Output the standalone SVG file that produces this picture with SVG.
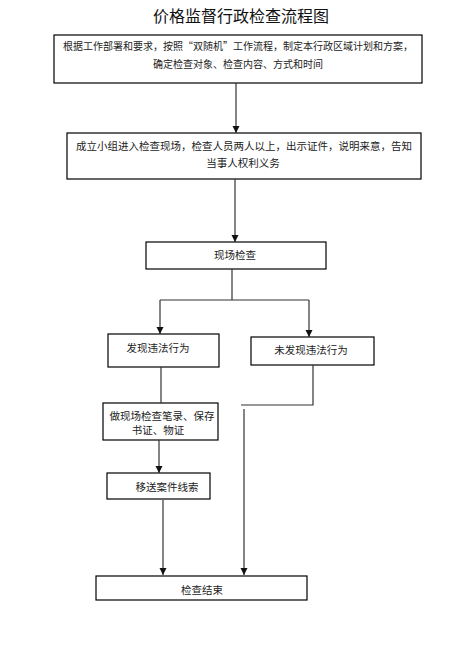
<svg xmlns="http://www.w3.org/2000/svg" width="465" height="669" viewBox="0 0 465 669">
<style>
.box{fill:#fff;stroke:#000;stroke-width:1.2}
.t{font-family:"Noto Sans CJK SC","Liberation Sans",sans-serif;font-size:10.5px;fill:#222;text-anchor:middle;dominant-baseline:central}
.ln{stroke:#333;stroke-width:1.2;fill:none}
</style>
<defs>
<marker id="ah" markerWidth="8" markerHeight="8" refX="7" refY="4" orient="auto" markerUnits="userSpaceOnUse">
<path d="M0,0.5 L7,4 L0,7.5 Z" fill="#111"/>
</marker>
</defs>
<rect width="465" height="669" fill="#fff"/>
<text x="241" y="15" class="t" style="font-size:16px;fill:#111">价格监督行政检查流程图</text>

<g id="n1"><rect class="box" x="54" y="35" width="368" height="48"/>
<text class="t" x="238" y="45" style="font-size:10px">根据工作部署和要求，按照“双随机”工作流程，制定本行政区域计划和方案，</text>
<text class="t" x="238" y="63" style="font-size:10px">确定检查对象、检查内容、方式和时间</text></g>

<g id="n2"><rect class="box" x="67" y="133" width="354" height="46"/>
<text class="t" x="244" y="145">成立小组进入检查现场，检查人员两人以上，出示证件，说明来意，告知</text>
<text class="t" x="243" y="162">当事人权利义务</text></g>

<g id="n3"><rect class="box" x="146" y="242" width="180" height="27"/>
<text class="t" x="235" y="254">现场检查</text></g>

<g id="n4"><rect class="box" x="108" y="334" width="111" height="33"/>
<text class="t" x="158" y="347">发现违法行为</text></g>

<g id="n5"><rect class="box" x="251" y="337" width="123" height="28"/>
<text class="t" x="311" y="349">未发现违法行为</text></g>

<g id="n6"><rect class="box" x="103" y="403" width="115" height="37"/>
<text class="t" x="162" y="415">做现场检查笔录、保存</text>
<text class="t" x="158" y="429">书证、物证</text></g>

<g id="n7"><rect class="box" x="107" y="473" width="103" height="26"/>
<text class="t" x="167" y="486">移送案件线索</text></g>

<g id="n8"><rect class="box" x="96" y="576" width="211" height="24"/>
<text class="t" x="202" y="589">检查结束</text></g>

<g id="connectors">
<line class="ln" x1="236" y1="83" x2="236" y2="133" marker-end="url(#ah)"/>
<line class="ln" x1="235" y1="179" x2="235" y2="242" marker-end="url(#ah)"/>
<polyline class="ln" points="232,269 232,300"/>
<polyline class="ln" points="160,300 309,300"/>
<line class="ln" x1="160" y1="300" x2="160" y2="334" marker-end="url(#ah)"/>
<line class="ln" x1="309" y1="300" x2="309" y2="337" marker-end="url(#ah)"/>
<polyline class="ln" points="313,365 313,405 241,405"/>
<line class="ln" x1="244" y1="409" x2="244" y2="575" marker-end="url(#ah)"/>
<line class="ln" x1="161" y1="367" x2="161" y2="403"/>
<line class="ln" x1="159" y1="440" x2="159" y2="473" marker-end="url(#ah)"/>
<line class="ln" x1="163" y1="500" x2="163" y2="575" marker-end="url(#ah)"/>
</g>
</svg>
